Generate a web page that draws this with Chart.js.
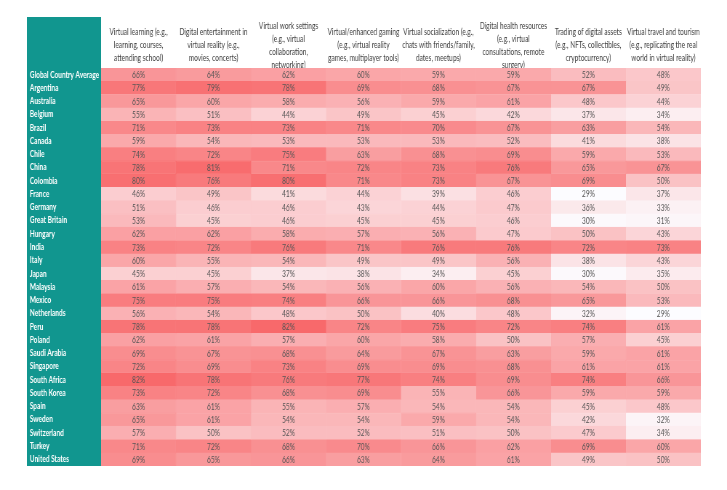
<!DOCTYPE html>
<html>
<head>
<meta charset="utf-8">
<script src="https://cdn.jsdelivr.net/npm/chart.js@4/dist/chart.umd.min.js"></script>
<style>
html,body{margin:0;padding:0;background:#ffffff;overflow:hidden;}
#wrap{width:1000px;height:490px;transform:scaleX(0.727);transform-origin:0 0;}
</style>
</head>
<body>
<div id="wrap"><canvas id="c"></canvas></div>
<script>
const countries = ["Global Country Average","Argentina","Australia","Belgium","Brazil","Canada","Chile","China","Colombia","France","Germany","Great Britain","Hungary","India","Italy","Japan","Malaysia","Mexico","Netherlands","Peru","Poland","Saudi Arabia","Singapore","South Africa","South Korea","Spain","Sweden","Switzerland","Turkey","United States"];

const headers = [
  ["Virtual learning (e.g.,","learning, courses,","attending school)"],
  ["Digital entertainment in","virtual reality (e.g.,","movies, concerts)"],
  ["Virtual work settings","(e.g., virtual","collaboration,","networking)"],
  ["Virtual/enhanced gaming","(e.g., virtual reality","games, multiplayer tools)"],
  ["Virtual socialization (e.g.,","chats with friends/family,","dates, meetups)"],
  ["Digital health resources","(e.g., virtual","consultations, remote","surgery)"],
  ["Trading of digital assets","(e.g., NFTs, collectibles,","cryptocurrency)"],
  ["Virtual travel and tourism","(e.g., replicating the real","world in virtual reality)"]
];

const learning      = [66,77,65,55,71,59,74,78,80,46,51,53,62,73,60,45,61,75,56,78,62,69,72,82,73,63,65,57,71,69];
const entertainment = [64,79,60,51,73,54,72,81,76,49,46,45,62,72,55,45,57,75,54,78,61,67,69,78,72,61,61,50,72,65];
const work          = [62,78,58,44,73,53,75,71,80,41,46,46,58,76,54,37,54,74,48,82,57,68,73,76,68,55,54,52,68,66];
const gaming        = [60,69,56,49,71,53,63,72,71,44,43,45,57,71,49,38,56,66,50,72,60,64,69,77,69,57,54,52,70,63];
const socialization = [59,68,59,45,70,53,68,73,73,39,44,45,56,76,49,34,60,66,40,75,58,67,69,74,55,54,59,51,66,64];
const health        = [59,67,61,42,67,52,69,76,67,46,47,46,47,76,56,45,56,68,48,72,50,63,68,69,66,54,54,50,62,61];
const trading       = [52,67,48,37,63,41,59,65,69,29,36,30,50,72,38,30,54,65,32,74,57,59,61,74,59,45,42,47,69,49];
const travel        = [48,49,44,34,54,38,53,67,50,37,33,31,43,73,43,35,50,53,29,61,45,61,61,66,59,48,32,34,60,50];

const series = [learning, entertainment, work, gaming, socialization, health, trading, travel];

const MIN_V = 29, MAX_V = 82;
function heat(v){
  const t = Math.max(0, Math.min(1, (v - MIN_V) / (MAX_V - MIN_V)));
  const r = Math.round(252 + (248 - 252) * t);
  const g = Math.round(252 + (105 - 252) * t);
  const b = Math.round(255 + (107 - 255) * t);
  return `rgb(${r},${g},${b})`;
}

const FONT = "Lato, 'Open Sans', 'Noto Sans', sans-serif";
const TEAL = '#11968F';

const datasets = series.map((vals, j) => ({
  label: 'col' + j,
  data: vals.map(() => [j, j + 1]),
  values: vals,
  backgroundColor: vals.map(heat),
  borderColor: vals.map(heat),
  borderWidth: 0.6,
  borderSkipped: false,
  barPercentage: 1,
  categoryPercentage: 1,
  grouped: false,
  xAxisID: 'x',
  yAxisID: 'y'
}));

const tealPlugin = {
  id: 'teal',
  beforeDraw(chart){
    const ys = chart.scales.y, xs = chart.scales.x2, ctx = chart.ctx;
    ctx.save();
    ctx.fillStyle = TEAL;
    ctx.fillRect(ys.left - 4, xs.top, ys.width + 4, ys.bottom - xs.top);
    ctx.restore();
  }
};

const labelPlugin = {
  id: 'cellLabels',
  afterDatasetsDraw(chart){
    const ctx = chart.ctx;
    ctx.save();
    ctx.font = '9px ' + FONT;
    ctx.fillStyle = '#555555';
    ctx.textAlign = 'center';
    ctx.textBaseline = 'middle';
    chart.data.datasets.forEach((ds, di) => {
      const meta = chart.getDatasetMeta(di);
      meta.data.forEach((el, i) => {
        const p = el.getProps(['x', 'y', 'base'], true);
        ctx.fillText(ds.values[i] + '%', (p.x + p.base) / 2, p.y + 0.5);
      });
    });
    ctx.restore();
  }
};

new Chart(document.getElementById('c'), {
  type: 'bar',
  data: { labels: countries, datasets },
  options: {
    indexAxis: 'y',
    responsive: true,
    maintainAspectRatio: false,
    animation: false,
    devicePixelRatio: 1,
    layout: { padding: { left: 41, top: 17, right: 36, bottom: 24 } },
    plugins: { legend: { display: false }, tooltip: { enabled: false } },
    scales: {
      x: { type: 'linear', min: 0, max: 8, display: false },
      x2: {
        type: 'category',
        axis: 'x',
        position: 'top',
        labels: headers,
        offset: true,
        grid: { display: false, drawTicks: false },
        border: { display: false },
        ticks: {
          color: '#404040',
          font: { family: FONT, size: 9, lineHeight: 1.45 },
          maxRotation: 0,
          minRotation: 0,
          autoSkip: false,
          crossAlign: 'center',
          padding: 3
        },
        afterFit(s){ s.height = 51; }
      },
      y: {
        type: 'category',
        grid: { display: false, drawTicks: false },
        border: { display: false },
        ticks: {
          color: '#ffffff',
          font: { family: FONT, size: 9, weight: 'bold' },
          crossAlign: 'far',
          autoSkip: false,
          padding: 0
        },
        afterFit(s){ s.width = 98; }
      }
    }
  },
  plugins: [tealPlugin, labelPlugin]
});
</script>
</body>
</html>
